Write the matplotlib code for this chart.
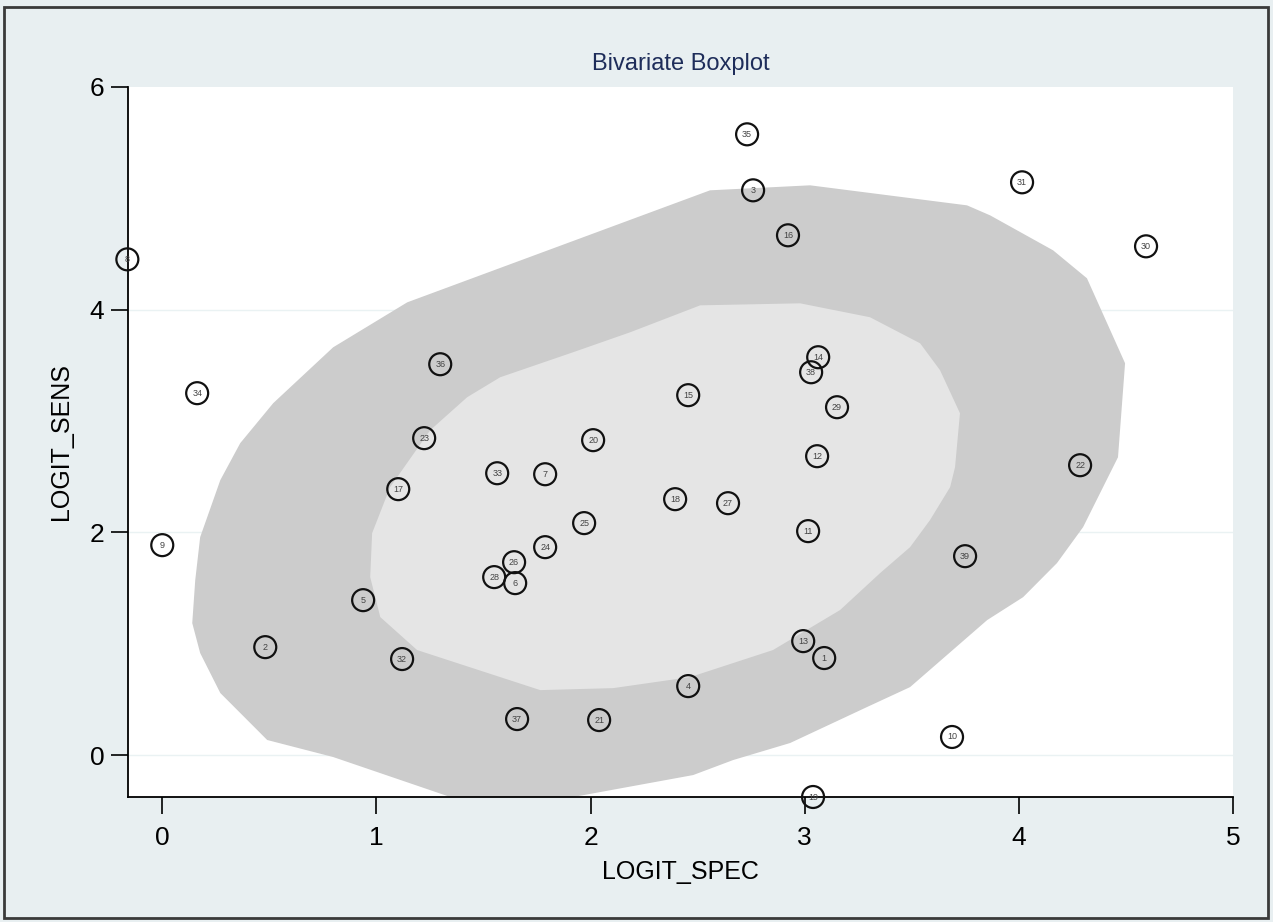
import numpy as np
import matplotlib
matplotlib.use("Agg")
import matplotlib.pyplot as plt
from matplotlib.patches import Polygon, Rectangle

plt.rcParams['font.family'] = ['Liberation Sans', 'DejaVu Sans']

# dados dos estudos (LOGIT_SPEC, LOGIT_SENS)
estudo = list(range(1, 40))
logit_spec = [3.091, 0.481, 2.759, 2.456, 0.938, 1.648, 1.788, -0.163, 0.000, 3.688,
              3.016, 3.058, 2.993, 3.063, 2.456, 2.922, 1.102, 2.395, 3.039, 2.012,
              2.040, 4.286, 1.223, 1.788, 1.970, 1.643, 2.642, 1.550, 3.151, 4.594,
              4.015, 1.120, 1.564, 0.163, 2.731, 1.298, 1.657, 3.030, 3.749]
logit_sens = [0.871, 0.969, 5.072, 0.619, 1.391, 1.544, 2.522, 4.452, 1.885, 0.162,
              2.011, 2.684, 1.023, 3.573, 3.232, 4.668, 2.388, 2.298, -0.377, 2.828,
              0.314, 2.603, 2.846, 1.867, 2.083, 1.732, 2.262, 1.598, 3.124, 4.569,
              5.144, 0.862, 2.531, 3.250, 5.575, 3.510, 0.323, 3.438, 1.786]

# contorno externo (fence)
fence_x = [1.144, 2.558, 3.025, 3.758, 3.866, 4.160, 4.318, 4.496, 4.463, 4.300,
           4.178, 4.020, 3.852, 3.492, 3.291, 2.932, 2.666, 2.479, 1.919, 1.671,
           1.345, 0.798, 0.490, 0.271, 0.177, 0.140, 0.154, 0.177, 0.271, 0.364,
           0.518, 0.798]
fence_y = [4.066, 5.072, 5.117, 4.937, 4.847, 4.533, 4.282, 3.519, 2.675, 2.047,
           1.724, 1.418, 1.212, 0.610, 0.431, 0.108, -0.045, -0.180, -0.377, -0.476,
           -0.377, -0.018, 0.135, 0.557, 0.916, 1.185, 1.571, 1.957, 2.469, 2.801,
           3.160, 3.662]

# contorno interno (hinge)
hinge_x = [2.979, 3.305, 3.539, 3.632, 3.725, 3.702, 3.679, 3.585, 3.492, 3.352,
           3.165, 2.852, 2.465, 2.106, 1.765, 1.190, 1.018, 0.971, 0.980, 1.064,
           1.251, 1.424, 1.578, 1.919, 2.185, 2.512]
hinge_y = [4.057, 3.932, 3.698, 3.456, 3.070, 2.585, 2.406, 2.110, 1.867, 1.634,
           1.302, 0.943, 0.700, 0.601, 0.583, 0.943, 1.239, 1.598, 1.993, 2.406,
           2.917, 3.214, 3.393, 3.618, 3.797, 4.039]

fundo = '#E8EFF1'
fig = plt.figure(figsize=(12.73, 9.22), dpi=100, facecolor=fundo)
ax = fig.add_axes([128/1273, 1-797/922, (1233-128)/1273, (797-87)/922])
ax.set_facecolor('white')

ax.add_patch(Polygon(np.column_stack([fence_x, fence_y]), closed=True,
                     facecolor='#CCCCCC', edgecolor='none', zorder=1))
ax.add_patch(Polygon(np.column_stack([hinge_x, hinge_y]), closed=True,
                     facecolor='#E5E5E5', edgecolor='none', zorder=2))

for g in [0, 2, 4]:
    ax.axhline(g, color='#EAF2F3', lw=1, zorder=0.5)

ax.scatter(logit_spec, logit_sens, s=250, facecolors='none', edgecolors='#111111',
           linewidths=1.6, zorder=4, clip_on=False)
for n, x, y in zip(estudo, logit_spec, logit_sens):
    ax.text(x, y, str(n), fontsize=6.5, color='#444444', ha='center', va='center',
            zorder=5, clip_on=False)

ax.set_xlim(-0.16, 5.0)
ax.set_ylim(-0.377, 6.0)
ax.set_xticks([0, 1, 2, 3, 4, 5])
ax.set_yticks([0, 2, 4, 6])
ax.tick_params(length=12, width=1.2, labelsize=19, colors='black')
ax.tick_params(axis='x', pad=9)
ax.tick_params(axis='y', pad=5)
for s in ['top', 'right']:
    ax.spines[s].set_visible(False)
for s in ['left', 'bottom']:
    ax.spines[s].set_linewidth(1.3)
    ax.spines[s].set_zorder(3)

ax.set_xlabel('LOGIT_SPEC', fontsize=18, labelpad=7)
ax.set_ylabel('LOGIT_SENS', fontsize=18, labelpad=12)
ax.set_title('Bivariate Boxplot', fontsize=17, color='#1E2D5A', pad=12)

# moldura externa
fig.patches.append(Rectangle((4/1273, 4/922), 1-9/1273, 1-11/922, transform=fig.transFigure,
                             fill=False, edgecolor='#3A3A3A', linewidth=2))

plt.savefig('out.png', dpi=100, facecolor=fundo)
